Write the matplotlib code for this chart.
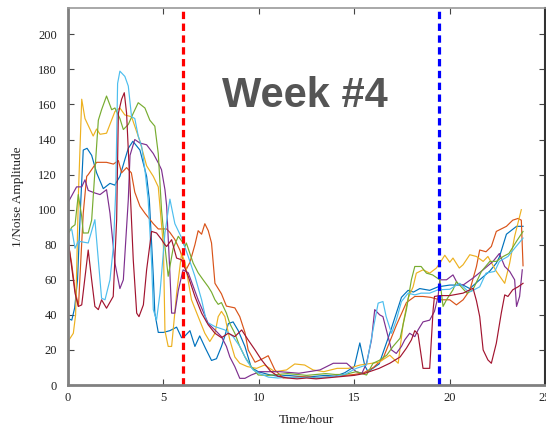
import numpy as np
import matplotlib
matplotlib.use("Agg")
import matplotlib.pyplot as plt

# MATLAB default line order
colors = ['#0072BD', '#D95319', '#EDB120', '#7E2F8E', '#77AC30', '#4DBEEE', '#A2142F']

t_blue = [0, 0.2, 0.35, 0.5, 0.65, 0.8, 1.0, 1.24, 1.5, 1.85, 2.2, 2.45, 2.72, 2.98, 3.16, 3.4, 3.77, 4.12,
          4.26, 4.47, 4.55, 4.73, 5.0, 5.34, 5.69, 5.95, 6.13, 6.39, 6.65, 6.9, 7.2, 7.52, 7.78, 8.04, 8.22,
          8.4, 8.65, 8.92, 9.27, 9.6, 9.97, 10.5, 11, 11.5, 12, 12.5, 13, 13.5, 14, 14.5, 15.0, 15.29, 15.55,
          15.72, 16.3, 16.86, 17.47, 17.82, 18.1, 18.43, 18.95, 19.39, 20.0, 20.7, 21.05, 21.57, 22.1, 22.44,
          22.6, 22.97, 23.5, 23.84]
v_blue = [38, 37, 44, 60, 100, 134, 135, 131, 121, 112, 115, 114, 119, 128.6, 135, 139, 134, 119,
          106, 62, 41, 30, 30, 31, 33, 27, 28, 31, 22, 28, 21, 14, 15, 22, 28,
          35, 36, 31, 22, 10, 7.6, 6, 5, 5.5, 5, 4.5, 5, 5.5, 5, 7, 10.5, 24, 11,
          7.6, 12, 29.5, 50, 54, 53, 55, 54, 56, 57, 57, 55, 60, 65, 69.5,
          73, 86, 90.5, 90.5]

t_orange = [0, 0.19, 0.37, 0.55, 0.8, 0.98, 1.06, 1.5, 2.02, 2.38, 2.64, 2.81, 3.07, 3.32, 3.5, 3.77, 4.03,
            4.47, 4.73, 5.17, 5.34, 5.6, 5.86, 6.2, 6.39, 6.65, 6.82, 7.0, 7.17, 7.35, 7.52, 7.7, 8.04, 8.3,
            8.74, 9.0, 9.27, 9.44, 9.8, 10.2, 10.49, 10.84, 11.27, 12, 12.5, 13, 13.5, 14, 14.5, 15, 15.5,
            16, 16.5, 17.2, 17.73, 18.17, 18.6, 19.0, 19.48, 20.0, 20.35, 20.7, 21.05, 21.4, 21.57, 21.9,
            22.18, 22.44, 22.97, 23.3, 23.58, 23.75, 23.84]
v_orange = [82, 69.5, 54, 45, 98, 119, 120, 127, 127, 126, 128, 121, 124, 121, 110, 102, 98,
            92, 89, 89, 87, 83, 77, 66, 70, 80, 88, 86, 92, 88, 81, 58, 52, 45,
            44, 39, 30, 20, 13, 15, 16.7, 8.6, 4, 4.5, 5, 4, 4.5, 5, 5.5, 6, 7,
            10, 15, 34, 47, 50.5, 50.5, 50, 48.6, 48.6, 45.7, 48.6, 54, 67.6, 77, 76,
            79, 87.6, 90.5, 94, 95, 94, 68]

t_yellow = [0, 0.28, 0.4, 0.55, 0.72, 0.89, 1.32, 1.5, 1.68, 2.02, 2.46, 2.72, 2.98, 3.33, 3.77, 4.12, 4.47,
            4.73, 5.0, 5.08, 5.25, 5.43, 5.69, 5.95, 6.13, 6.47, 6.82, 7.17, 7.43, 7.7, 7.87, 8.04, 8.22,
            8.48, 8.74, 9.0, 9.4, 9.88, 10.3, 10.84, 11.45, 11.88, 12.4, 12.84, 13.4, 14.1, 14.7, 15.3,
            16.3, 16.86, 17.3, 17.56, 17.82, 18.08, 18.25, 18.6, 18.95, 19.3, 19.48, 19.74, 20.0, 20.17,
            20.5, 20.7, 21.05, 21.4, 21.75, 22.0, 22.44, 22.88, 23.14, 23.4, 23.75]
v_yellow = [24.8, 29.5, 40, 110, 163, 152, 142, 146, 143, 143.6, 156, 158, 154, 153, 139, 125, 119,
            113, 79, 31, 22, 22, 52, 75, 70, 48.6, 39, 29.5, 24.8, 29.5, 39, 42, 39,
            25.7, 16, 12.4, 10.5, 9.5, 11.4, 7.6, 8.6, 12, 11.4, 8.6, 7.6, 9.5, 9.5, 11.4,
            13, 17, 12.4, 35, 49.5, 56, 63.8, 65.7, 63.8, 66.7, 69.5, 74, 70, 72.4,
            66.7, 68.6, 74.3, 73.3, 70.5, 73.3, 64.8, 58, 69.5, 84.8, 100]

t_purple = [0, 0.45, 0.72, 0.89, 1.06, 1.41, 1.68, 2.02, 2.2, 2.46, 2.72, 2.9, 3.16, 3.25, 3.5, 3.77, 4.12,
            4.47, 4.73, 4.9, 5.08, 5.17, 5.34, 5.43, 5.6, 5.78, 6.03, 6.3, 6.82, 7.35, 7.7, 8.04, 8.3, 8.48,
            8.74, 9.0, 9.27, 9.6, 10.05, 11.1, 12.1, 13.2, 13.9, 14.6, 15.1, 15.4, 15.64, 15.9, 16.07,
            16.33, 16.5, 16.77, 16.95, 17.2, 17.47, 17.64, 17.9, 18.17, 18.34, 18.6, 18.95, 19.2, 19.39,
            19.48, 19.83, 20.17, 20.4, 20.7, 21.22, 21.75, 22.27, 22.6, 22.88, 23.14, 23.4, 23.5, 23.66, 23.8]
v_purple = [104, 113, 113, 117, 111, 109.5, 108.6, 111.4, 98, 69.5, 55, 60, 105.7, 131, 140, 138, 137,
            132, 126.7, 122.8, 111.4, 102, 63.8, 41, 41, 54, 65.7, 64, 48.6, 35, 31.4, 27.6, 22, 16,
            10.5, 3.8, 3.8, 5.7, 7.6, 7.6, 6.7, 8.6, 12.4, 12.4, 7.6, 6.7, 12.4, 25.7, 43,
            40, 39, 27.6, 20, 18, 22, 25.7, 29.5, 27.6, 31.4, 36, 37, 42, 50.5,
            60, 60, 62.8, 58, 57, 61, 65.7, 70.5, 75, 67.6, 64.8, 60, 44.8, 50.5, 65.7]

t_green = [0, 0.2, 0.37, 0.54, 0.72, 0.8, 1.06, 1.24, 1.59, 1.76, 2.02, 2.29, 2.46, 2.72, 2.9, 3.16, 3.42,
           3.68, 4.03, 4.29, 4.55, 4.73, 4.9, 5.08, 5.25, 5.51, 5.78, 6.03, 6.13, 6.2, 6.56, 6.82, 7.08,
           7.35, 7.52, 7.7, 7.87, 8.04, 8.3, 8.48, 8.74, 9.0, 9.27, 9.6, 9.97, 10.5, 11, 11.5, 12, 12.5,
           13, 13.5, 14, 14.5, 15.1, 15.64, 15.98, 16.3, 16.7, 17.03, 17.4, 17.73, 17.99, 18.17, 18.5,
           18.78, 19.1, 19.48, 19.65, 19.83, 20.17, 20.35, 20.6, 20.9, 21.2, 21.66, 22.1, 22.44, 22.8,
           23.1, 23.5, 23.84]
v_green = [86, 90, 91.4, 108.6, 96, 86.7, 86.7, 94, 151, 157, 164.8, 157, 158, 152, 145.7, 148.6, 155,
           161, 158, 151, 147.6, 132, 100, 79, 62, 78, 84.8, 81, 79, 81, 69.5, 64, 60,
           56, 53, 48.6, 46, 47, 41, 35, 29.5, 22, 16, 10.5, 5.7, 5.5, 6, 6.5, 6, 5.5,
           6, 6.5, 6, 6, 7.6, 5.7, 12.4, 14, 17, 22, 26.7, 43, 60, 67.6, 67.6,
           63.8, 62.8, 60, 44.8, 48.6, 54.3, 59, 56, 52.4, 54, 64.8, 70.5, 70.5, 73.3,
           75, 82, 87.6]

t_cyan = [0, 0.2, 0.37, 0.54, 1.06, 1.41, 1.6, 1.76, 1.94, 2.2, 2.38, 2.5, 2.6, 2.72, 2.98, 3.16, 3.33, 3.5,
          3.68, 3.86, 4.03, 4.2, 4.38, 4.47, 4.64, 4.82, 5.08, 5.34, 5.6, 5.95, 6.3, 6.65, 7.0, 7.26, 7.7,
          8.22, 8.65, 9.0, 9.35, 9.7, 10.0, 10.5, 11, 11.5, 12, 12.5, 13, 13.5, 14, 14.5, 15.1, 15.64,
          15.98, 16.25, 16.5, 16.67, 16.95, 17.2, 17.47, 17.82, 18.17, 18.5, 18.95, 19.39, 20.0, 20.52,
          20.9, 21.1, 21.57, 21.9, 22.36, 22.6, 23.05, 23.4, 23.84]
v_cyan = [88.6, 88.6, 78, 82, 81, 94.3, 70, 49.5, 48.6, 60, 79, 110, 172, 179, 176, 170.5, 153, 152,
          142, 136, 122.8, 105.7, 70, 43, 37, 52.4, 86.7, 106, 92, 84, 73.3, 62, 48.6, 36, 33.3,
          31.4, 27.6, 22, 14.3, 8.6, 6.7, 4.5, 4, 4.5, 4, 4.5, 4, 4.5, 5, 6, 9.5, 11.4,
          31.4, 46.7, 47.6, 39, 29.5, 37, 47.6, 52.4, 51.4, 52.4, 52.4, 54.3, 54.6, 58,
          54, 53.3, 56, 63.8, 64.8, 70.5, 73.3, 78, 83.8]

t_darkred = [0, 0.19, 0.37, 0.54, 0.72, 1.06, 1.24, 1.41, 1.59, 1.76, 2.02, 2.37, 2.55, 2.64, 2.81, 2.95,
             3.07, 3.25, 3.42, 3.6, 3.72, 3.95, 4.12, 4.38, 4.64, 4.9, 5.08, 5.17, 5.43, 5.69, 5.95, 6.3,
             6.65, 7.0, 7.35, 7.7, 8.04, 8.4, 8.74, 9.1, 9.44, 9.8, 10.14, 10.6, 11, 11.5, 12, 12.5, 13,
             13.5, 14, 14.5, 15, 15.5, 16.3, 16.86, 17.4, 17.73, 17.99, 18.17, 18.34, 18.6, 18.95, 19.13,
             19.2, 19.48, 20.0, 20.7, 21.22, 21.4, 21.57, 21.75, 22.0, 22.18, 22.44, 22.7, 22.88, 23.05,
             23.3, 23.58, 23.84]
v_darkred = [83, 67.6, 52.4, 44.8, 45.7, 77, 60, 44.8, 43, 48.6, 43.8, 50.5, 94.3, 155, 163, 166.7,
             155, 113, 71.4, 41, 39, 45.7, 65.7, 87.6, 86.7, 83, 80, 79, 82.9, 72.4, 71.4, 62,
             50.5, 41, 34.3, 29.5, 27, 29.5, 27.6, 31.4, 25.7, 20, 14.3, 8, 5, 4, 3.5, 4, 3.5,
             4, 4.5, 5, 5.5, 6.5, 9.5, 12.4, 16, 21, 25.7, 31, 29, 9.5, 9.5, 43,
             50.5, 51, 51, 52.4, 55.2, 48, 39, 20, 14.3, 12.4, 23.8, 41, 51.4, 50.5,
             54.3, 56, 58]

series_t = [t_blue, t_orange, t_yellow, t_purple, t_green, t_cyan, t_darkred]
series_v = [v_blue, v_orange, v_yellow, v_purple, v_green, v_cyan, v_darkred]

red_line_x = 6.0
blue_line_x = 19.45
title_text = "Week #4"

plt.rcParams['font.family'] = ['Liberation Serif', 'DejaVu Serif']

fig = plt.figure(figsize=(5.46, 4.25), dpi=100)
ax = fig.add_axes([0.1245, 0.0941, 0.874, 0.887])

for t, v, c in zip(series_t, series_v, colors):
    ax.plot(t, v, color=c, lw=0.85)

ax.axvline(red_line_x, color='#FF0000', lw=2.3, dashes=(2.3, 1.4))
ax.axvline(blue_line_x, color='#0000FF', lw=2.3, dashes=(2.3, 1.4))

ax.text(12.4, 165, title_text, family=['Liberation Sans', 'DejaVu Sans'], fontweight='bold',
        fontsize=30, color='#555555', ha='center', va='center')

ax.set_xlim(0, 25)
ax.set_ylim(0, 215)
ax.set_xticks([0, 5, 10, 15, 20, 25])
ax.set_yticks(np.arange(0, 201, 20))
ax.tick_params(direction='in', top=True, right=True, length=4, width=0.8, colors='#444444',
               labelsize=9, labelcolor='#222222')
ax.tick_params(axis='y', pad=8)
ax.tick_params(axis='x', pad=5)
ax.set_xlabel("Time/hour", fontsize=9.5, color='#222222', labelpad=7)
ax.set_ylabel("1/Noise Amplitude", fontsize=9.5, color='#222222', labelpad=10)

for s in ['left', 'bottom']:
    ax.spines[s].set_color('#808080')
    ax.spines[s].set_linewidth(2.0)
ax.spines['top'].set_color('#999999')
ax.spines['top'].set_linewidth(1.2)
ax.spines['right'].set_color('#333333')
ax.spines['right'].set_linewidth(1.5)

fig.savefig("out.png", dpi=100)
